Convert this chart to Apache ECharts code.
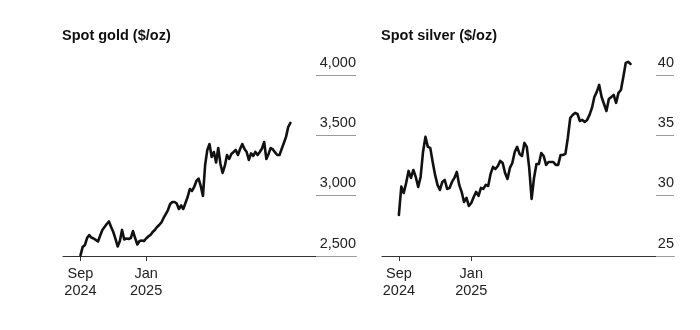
<!DOCTYPE html>
<html>
<head>
<meta charset="utf-8">
<script src="https://cdn.jsdelivr.net/npm/echarts@6/dist/echarts.min.js"></script>
<style>
  html, body { margin: 0; padding: 0; background: #fff; }
  #chart { width: 700px; height: 330px; }
</style>
</head>
<body>
<div id="chart"></div>
<script>
// Prices sampled every 4 days starting 2024-09-03
const sampleStart = '2024-09-03';
const sampleStepDays = 4;

const goldPrices = [
  2505, 2575, 2591, 2649, 2674, 2653, 2645, 2633, 2620, 2670,
  2716, 2740, 2765, 2786, 2740, 2699, 2641, 2579, 2624, 2716,
  2637, 2645, 2641, 2649, 2707, 2649, 2595, 2624, 2628, 2624,
  2645, 2662, 2674, 2699, 2716, 2740, 2757, 2778, 2815, 2848,
  2881, 2931, 2948, 2948, 2935, 2890, 2919, 2890, 2939, 2989,
  3055, 3039, 3072, 3122, 3142, 3080, 2997, 3254, 3379, 3428,
  3321, 3362, 3275, 3395, 3263, 3188, 3246, 3337, 3304, 3346,
  3362, 3379, 3337, 3387, 3428, 3387, 3362, 3296, 3350, 3329,
  3362, 3337, 3362, 3391, 3445, 3304, 3346, 3395, 3383, 3358,
  3337, 3337, 3387, 3437, 3487, 3569, 3603
];

const silverPrices = [
  28.40, 30.76, 30.22, 31.05, 32.05, 31.47, 32.13, 31.55, 30.72, 31.55,
  33.62, 34.87, 34.04, 33.96, 32.79, 31.72, 30.89, 30.47, 31.14, 31.30,
  30.56, 30.64, 31.14, 31.47, 31.97, 30.89, 30.31, 29.48, 29.81, 29.15,
  29.39, 29.89, 30.31, 29.98, 30.64, 30.56, 30.89, 30.80, 31.80, 32.38,
  32.21, 32.46, 32.88, 32.71, 31.88, 31.38, 32.30, 32.71, 33.62, 34.04,
  33.46, 33.29, 34.37, 34.04, 32.30, 29.73, 31.47, 32.63, 32.63, 33.54,
  33.29, 32.55, 32.79, 32.79, 32.79, 32.55, 32.55, 33.37, 33.37, 33.46,
  34.78, 36.44, 36.69, 36.86, 36.77, 36.19, 36.28, 36.11, 36.28, 36.69,
  37.27, 38.18, 38.60, 39.18, 38.18, 37.60, 37.02, 38.02, 38.18, 38.35,
  37.69, 38.52, 38.76, 39.84, 41.00, 41.09, 40.92
];

// Dated x-axis ticks
const tickDates = ['2024-09-03', '2025-01-01'];
const tickTexts = ['Sep\n2024', 'Jan\n2025'];

// Y-axis ticks
const goldTicks = { min: 2500, max: 4000, interval: 500 };
const silverTicks = { min: 25, max: 40, interval: 5 };

const titles = ['Spot gold ($/oz)', 'Spot silver ($/oz)'];

function dateSeq(start, count, step) {
  const out = [];
  const t0 = Date.parse(start + 'T00:00:00Z');
  for (let i = 0; i < count; i++) {
    out.push(new Date(t0 + i * step * 86400000).toISOString().slice(0, 10));
  }
  return out;
}

const sampleDates = dateSeq(sampleStart, goldPrices.length, sampleStepDays);
// Axis spans a little wider than the data on both sides
const goldAxisDates = dateSeq('2024-08-02', 135, sampleStepDays);
const silverAxisDates = dateSeq('2024-08-06', 122, sampleStepDays);

const FONT = '"Liberation Sans", Arial, sans-serif';

function isTick(idx, val) { return tickDates.indexOf(val) >= 0; }

function xAxisFor(gridIndex, cats) {
  return {
    type: 'category',
    gridIndex: gridIndex,
    data: cats,
    boundaryGap: false,
    axisLine: { show: true, lineStyle: { color: '#333', width: 1 } },
    axisTick: { show: true, interval: isTick, length: 5, lineStyle: { color: '#333' } },
    axisLabel: {
      interval: isTick,
      formatter: v => tickTexts[tickDates.indexOf(v)] || '',
      color: '#222', fontFamily: FONT, fontSize: 14.5, lineHeight: 16.5, margin: 10
    },
    splitLine: { show: false }
  };
}

function yAxisFor(gridIndex, t, tickLen, fmt) {
  return {
    type: 'value',
    gridIndex: gridIndex,
    position: 'right',
    min: t.min, max: t.max, interval: t.interval,
    axisLine: { show: false },
    axisTick: { show: true, inside: true, length: tickLen, lineStyle: { color: '#999', width: 1 } },
    axisLabel: {
      inside: true, margin: 0, align: 'right', verticalAlign: 'bottom',
      padding: [0, 0, 5, 0],
      formatter: fmt,
      color: '#222', fontFamily: FONT, fontSize: 14.5
    },
    splitLine: { show: false }
  };
}

function pairs(values) {
  return values.map((v, i) => [sampleDates[i], v]);
}

const titleStyle = { fontFamily: FONT, fontSize: 14.5, fontWeight: 'bold', color: '#111' };

const chart = echarts.init(document.getElementById('chart'), null, { renderer: 'canvas' });
chart.setOption({
  animation: false,
  backgroundColor: '#fff',
  title: [
    { text: titles[0], left: 62, top: 28, padding: 0, textStyle: titleStyle },
    { text: titles[1], left: 381, top: 28, padding: 0, textStyle: titleStyle }
  ],
  grid: [
    { left: 63, right: 344, top: 75, bottom: 74 },
    { left: 382, right: 26, top: 75, bottom: 74 }
  ],
  xAxis: [xAxisFor(0, goldAxisDates), xAxisFor(1, silverAxisDates)],
  yAxis: [
    yAxisFor(0, goldTicks, 40, v => v.toLocaleString('en-US')),
    yAxisFor(1, silverTicks, 18, v => String(v))
  ],
  series: [
    {
      type: 'line', xAxisIndex: 0, yAxisIndex: 0, data: pairs(goldPrices),
      showSymbol: false, clip: false,
      lineStyle: { color: '#111', width: 2.6, join: 'round', cap: 'round' }
    },
    {
      type: 'line', xAxisIndex: 1, yAxisIndex: 1, data: pairs(silverPrices),
      showSymbol: false, clip: false,
      lineStyle: { color: '#111', width: 2.6, join: 'round', cap: 'round' }
    }
  ]
});
</script>
</body>
</html>
